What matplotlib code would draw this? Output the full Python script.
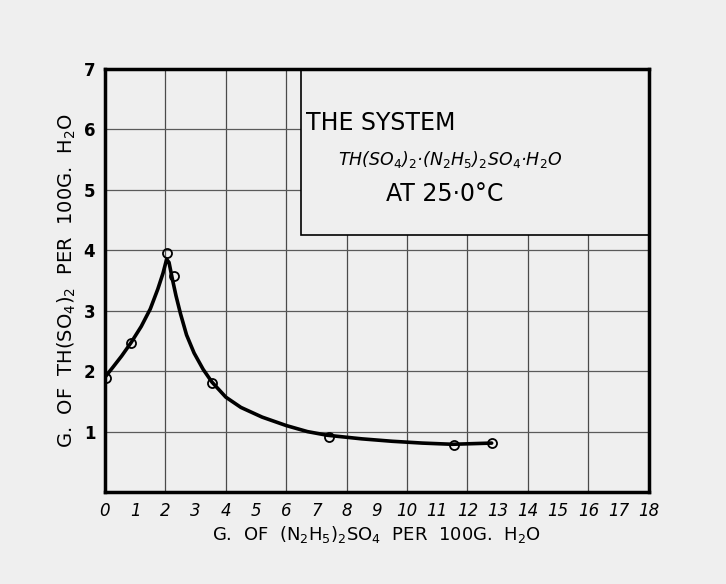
import numpy as np
import matplotlib.pyplot as plt
from matplotlib.patches import Rectangle

# measured points (open circles)
x_pts = [0.05, 0.86, 2.06, 2.28, 3.54, 7.4, 11.55, 12.8]
y_pts = [1.88, 2.47, 3.96, 3.58, 1.80, 0.91, 0.77, 0.81]

# hand drawn curve
x_curve = [0.0, 0.27, 0.55, 0.86, 1.2, 1.5, 1.75, 1.92, 2.04, 2.12, 2.22, 2.35, 2.5,
           2.7, 2.95, 3.25, 3.54, 4.0, 4.5, 5.2, 6.0, 6.7, 7.35, 8.5, 9.5, 10.5, 11.5, 12.8]
y_curve = [1.9, 2.07, 2.25, 2.47, 2.74, 3.03, 3.36, 3.62, 3.85, 3.8, 3.55, 3.25, 2.95,
           2.6, 2.3, 2.03, 1.82, 1.57, 1.4, 1.24, 1.1, 1.0, 0.94, 0.88, 0.84, 0.81, 0.79, 0.81]

x_ticks = list(range(0, 19))
y_ticks = [1, 2, 3, 4, 5, 6, 7]

paper = "#efefef"

fig = plt.figure(figsize=(7.26, 5.84), dpi=100, facecolor=paper)
ax = fig.add_axes([0.1446, 0.1575, 0.749, 0.7243])
ax.set_facecolor(paper)

ax.set_xlim(0, 18)
ax.set_ylim(0, 7)

# graph paper grid
for gx in range(2, 18, 2):
    ax.axvline(gx, color="#4a4a4a", lw=0.9, zorder=1)
for gy in range(1, 7):
    ax.axhline(gy, color="#5a5a5a", lw=0.9, zorder=1)

# title box
ax.add_patch(Rectangle((6.5, 4.25), 11.5, 2.75, facecolor=paper, edgecolor="black",
                       lw=1.2, zorder=2))
ax.text(6.65, 6.1, "THE SYSTEM", fontsize=17, va="center", ha="left", zorder=3)
ax.text(7.7, 5.5, "TH(SO$_4$)$_2$·(N$_2$H$_5$)$_2$SO$_4$·H$_2$O", fontsize=12.5,
        style="italic", va="center", ha="left", zorder=3)
ax.text(9.3, 4.93, "AT 25·0°C", fontsize=17, va="center", ha="left", zorder=3)

ax.plot(x_curve, y_curve, color="black", lw=2.6, zorder=4,
        solid_capstyle="round", solid_joinstyle="round")
ax.plot(x_pts, y_pts, "o", mfc="none", mec="black", ms=6.5, mew=1.3, zorder=5)

ax.set_xticks(x_ticks)
ax.set_xticklabels([str(t) for t in x_ticks], fontsize=12, style="italic")
ax.set_yticks(y_ticks)
ax.set_yticklabels([str(t) for t in y_ticks], fontsize=12, fontweight="bold")
ax.tick_params(length=0, pad=7)

for s in ax.spines.values():
    s.set_linewidth(2.5)
    s.set_zorder(6)

ax.set_xlabel("G.  OF  (N$_2$H$_5$)$_2$SO$_4$  PER  100G.  H$_2$O", fontsize=13, labelpad=3)
ax.set_ylabel("G.  OF  TH(SO$_4$)$_2$  PER  100G.  H$_2$O", fontsize=14, labelpad=4)

fig.savefig("out.png", dpi=100, facecolor=paper)
